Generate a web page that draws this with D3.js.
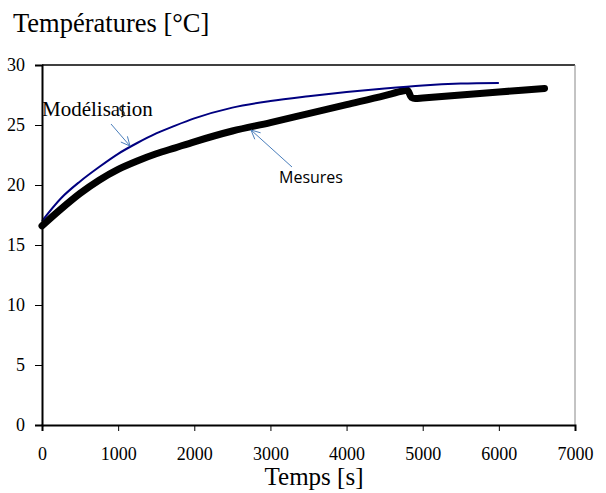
<!DOCTYPE html>
<html>
<head>
<meta charset="utf-8">
<script src="https://cdn.jsdelivr.net/npm/d3@7"></script>
<style>
  body { margin: 0; background: #fff; }
</style>
</head>
<body>
<script>
// temps [s] et températures [°C]
const modelTime = [0, 250, 500, 750, 1000, 1250, 1500, 1750, 2000, 2500, 3000, 3500, 4000, 4500, 5000, 5500, 6000];
const modelTemp = [17.0, 18.9, 20.3, 21.5, 22.6, 23.5, 24.3, 24.95, 25.55, 26.45, 27.0, 27.4, 27.75, 28.05, 28.3, 28.45, 28.5];

const mesTime = [0, 250, 500, 750, 1000, 1250, 1500, 1750, 2000, 2500, 3000, 3500, 4000, 4500, 4750, 4800, 4850, 4900, 5000, 5500, 6000, 6600];
const mesTemp = [16.6, 18.0, 19.3, 20.4, 21.3, 22.0, 22.6, 23.1, 23.6, 24.5, 25.2, 25.95, 26.7, 27.45, 27.85, 27.9, 27.3, 27.2, 27.25, 27.5, 27.75, 28.05];

const xTicks = [0, 1000, 2000, 3000, 4000, 5000, 6000, 7000];
const yTicks = [0, 5, 10, 15, 20, 25, 30];

const width = 606, height = 493;
const margin = {top: 65, right: 31, bottom: 68, left: 42};
const serif = "Liberation Serif, Times New Roman, serif";

const svg = d3.select("body").append("svg")
    .attr("width", width)
    .attr("height", height)
    .attr("font-family", serif);

const x = d3.scaleLinear([0, 7000], [margin.left, width - margin.right]);
const y = d3.scaleLinear([0, 30], [height - margin.bottom, margin.top]);

// cadre haut et droit
svg.append("line")
    .attr("x1", x(0)).attr("x2", x(7000))
    .attr("y1", y(30)).attr("y2", y(30))
    .attr("stroke", "#000").attr("stroke-width", 1.3);
svg.append("line")
    .attr("x1", x(7000)).attr("x2", x(7000))
    .attr("y1", y(30)).attr("y2", y(0))
    .attr("stroke", "#888").attr("stroke-width", 1);

const line = d3.line().curve(d3.curveMonotoneX);

// mesures (trait épais noir)
svg.append("path")
    .attr("d", line(mesTime.map((t, i) => [x(t), y(mesTemp[i])])))
    .attr("fill", "none")
    .attr("stroke", "#000")
    .attr("stroke-width", 7)
    .attr("stroke-linejoin", "round")
    .attr("stroke-linecap", "round");

// modélisation
svg.append("path")
    .attr("d", line(modelTime.map((t, i) => [x(t), y(modelTemp[i])])))
    .attr("fill", "none")
    .attr("stroke", "#000080")
    .attr("stroke-width", 2);

// axes
const xAxis = svg.append("g")
    .attr("transform", `translate(0,${y(0)})`)
    .call(d3.axisBottom(x).tickValues(xTicks).tickFormat(d3.format("d")).tickSize(6).tickPadding(16));
const yAxis = svg.append("g")
    .attr("transform", `translate(${x(0)},0)`)
    .call(d3.axisLeft(y).tickValues(yTicks).tickSize(7).tickPadding(10));

[xAxis, yAxis].forEach(g => {
  g.select(".domain").attr("stroke-width", 2);
  g.selectAll("text")
      .attr("font-family", serif)
      .attr("font-size", 18)
      .attr("fill", "#000");
});

svg.append("text")
    .attr("x", 13).attr("y", 32)
    .attr("font-size", 26.5)
    .text("Températures [°C]");

svg.append("text")
    .attr("x", 314).attr("y", 485)
    .attr("text-anchor", "middle")
    .attr("font-size", 25)
    .text("Temps [s]");

// annotations avec flèches
const arrowColor = "#4a7ebb";
function arrow(x1, y1, x2, y2) {
  svg.append("line")
      .attr("x1", x1).attr("y1", y1).attr("x2", x2).attr("y2", y2)
      .attr("stroke", arrowColor).attr("stroke-width", 1);
  const a = Math.atan2(y2 - y1, x2 - x1);
  [0.45, -0.45].forEach(d => {
    svg.append("line")
        .attr("x1", x2).attr("y1", y2)
        .attr("x2", x2 - 10 * Math.cos(a + d))
        .attr("y2", y2 - 10 * Math.sin(a + d))
        .attr("stroke", arrowColor).attr("stroke-width", 1);
  });
}

svg.append("text")
    .attr("x", 42).attr("y", 115.5)
    .attr("font-family", serif)
    .attr("font-size", 21)
    .text("Modélisation");
// petit crochet parasite sur le libellé
svg.append("path")
    .attr("d", "M124,106 C119,105 119,110 122,111 C125,112 125,116 121,117")
    .attr("fill", "none")
    .attr("stroke", "#222")
    .attr("stroke-width", 1.2);
arrow(111, 124, 130, 146);

svg.append("text")
    .attr("x", 279).attr("y", 183)
    .attr("font-family", "Open Sans, sans-serif")
    .attr("font-size", 16)
    .text("Mesures");
arrow(292, 167, 251, 130);
</script>
</body>
</html>
